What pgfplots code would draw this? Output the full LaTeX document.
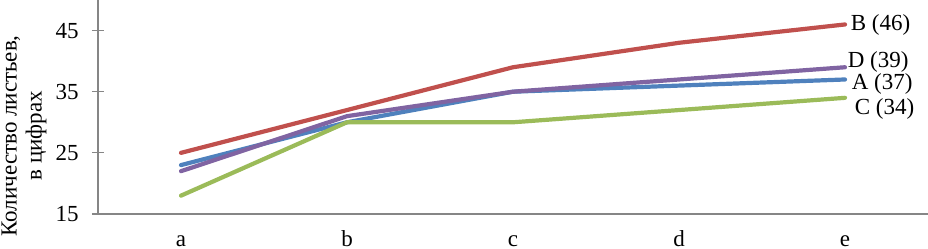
\documentclass[border=0pt]{standalone}
\usepackage{fontspec}
\setmainfont{Liberation Serif}
\usepackage{pgfplots}
\pgfplotsset{compat=1.18}
\definecolor{cA}{HTML}{4F81BD}
\definecolor{cB}{HTML}{C0504D}
\definecolor{cC}{HTML}{9BBB59}
\definecolor{cD}{HTML}{8064A2}
\definecolor{axgray}{HTML}{868686}
\begin{document}
\fontsize{11.5}{13}\selectfont
\begin{tikzpicture}
\begin{axis}[
  name=ax,
  scale only axis,
  width=415pt, height=107pt,
  xmin=-0.5, xmax=4.5, ymin=15, ymax=50,
  xtick={0,1,2,3,4}, xticklabels={a,b,c,d,e},
  ytick={15,25,35,45},
  axis x line*=bottom, axis y line*=left,
  axis line style={axgray, line width=0.6pt, -},
  xtick style={draw=none},
  ytick style={axgray, line width=0.6pt},
  tick align=center, major tick length=6pt,
  /pgf/number format/assume math mode=true,
  tick label style={font=\fontsize{11.5}{13}\selectfont},
  xticklabel style={anchor=base, inner sep=0pt, yshift=-13.2pt},
  yticklabel style={anchor=east, inner sep=0pt, xshift=-6.5pt},
  ylabel={Количество листьев,\\в цифрах},
  ylabel style={align=center, inner sep=0pt, font=\fontsize{11.5}{12.5}\selectfont, at={(axis description cs:-0.0614,0.365)}, anchor=south},
  clip=false,
  every axis plot/.append style={line width=2.1pt, line join=round, line cap=round},
]
\addplot[cA] coordinates {(0,23) (1,30) (2,35) (3,36) (4,37)} node[pos=1, anchor=west, text=black, xshift=-1.5pt, yshift=-2pt] {A (37)};
\addplot[cB] coordinates {(0,25) (1,32) (2,39) (3,43) (4,46)} node[pos=1, anchor=west, text=black, xshift=-2pt, yshift=-0.5pt] {B (46)};
\addplot[cC] coordinates {(0,18) (1,30) (2,30) (3,32) (4,34)} node[pos=1, anchor=west, text=black, xshift=0pt, yshift=-5.5pt] {C (34)};
\addplot[cD] coordinates {(0,22) (1,31) (2,35) (3,37) (4,39)} node[pos=1, anchor=west, text=black, xshift=-3.5pt, yshift=2.5pt] {D (39)};
\end{axis}
\pgfresetboundingbox
\path[use as bounding box] (ax.south west) ++(-49pt,-17.5pt) rectangle (ax.north east);
\end{tikzpicture}
\end{document}
